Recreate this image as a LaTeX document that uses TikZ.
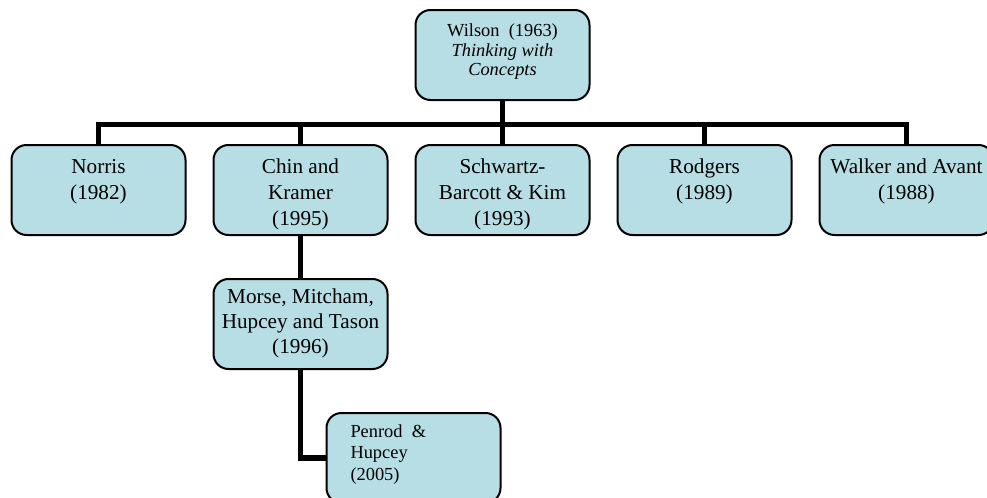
\documentclass[tikz,border=0pt]{standalone}
\usepackage{fontspec}
\setmainfont{Liberation Serif}
\usetikzlibrary{positioning}
\definecolor{boxblue}{RGB}{183,222,228}
\newcommand{\rowfont}{\fontsize{10.6}{13}\selectfont}
\newcommand{\wilsonfont}{\fontsize{9.2}{10}\selectfont}
\newcommand{\morsefont}{\fontsize{10.6}{12.5}\selectfont}
\newcommand{\penrodfont}{\fontsize{9.2}{10.75}\selectfont}
\newcommand{\toplines}[3][\centering]{\parbox[c][45pt][t]{87pt}{#1\vspace*{#2}\strut #3}}
\tikzstyle{concept}=[rectangle,rounded corners=7.5pt,draw=black,line width=1pt,
fill=boxblue,inner sep=0pt,minimum width=87pt,minimum height=45pt]
\tikzstyle{link}=[line width=2.8pt,line join=miter]

\begin{document}
\begin{tikzpicture}[node distance=13pt]
            \useasboundingbox (0,0) rectangle (493.5pt,-249pt);

            % SECOND ROW

            \node[concept,font=\rowfont] (norris) at (49.25pt,-95pt) {\toplines{4.9pt}{Norris\\(1982)}};
            \node[concept,font=\rowfont,right=of norris] (chin) {\toplines{4.9pt}{Chin and\\Kramer\\(1995)}};
            \node[concept,font=\rowfont,right=of chin] (schwartz) {\toplines{4.9pt}{Schwartz-\\Barcott \& Kim\\(1993)}};
            \node[concept,font=\rowfont,right=of schwartz] (rodgers) {\toplines{4.9pt}{Rodgers\\(1989)}};
            \node[concept,font=\rowfont,right=of rodgers] (walker) {\toplines{4.9pt}{Walker and Avant\\(1988)}};

            % TOP

            \node[concept,font=\wilsonfont,above=21.5pt of schwartz] (wilson) {\toplines{6pt}{Wilson\ \ (1963)\\\textit{Thinking with}\\\textit{Concepts}}};

            % BELOW CHIN AND KRAMER

            \node[concept,font=\morsefont,below=21pt of chin] (morse) {\toplines{3.25pt}{Morse, Mitcham,\\Hupcey and Tason\\(1996)}};
            \node[concept,font=\penrodfont,below=21pt of morse,xshift=56.5pt] (penrod) {\toplines[\raggedright\leftskip=12pt]{4.5pt}{Penrod\ \ \&\\Hupcey\\(2005)}};

            % CONNECTIONS

            \coordinate (bar) at (0,-62.25pt);
            \draw[link] (wilson.south) -- (wilson.south |- bar);
            \draw[link] (norris.north) -- (norris.north |- bar) -- (walker.north |- bar) -- (walker.north);
            \draw[link] (chin.north) -- (chin.north |- bar);
            \draw[link] (schwartz.north) -- (schwartz.north |- bar);
            \draw[link] (rodgers.north) -- (rodgers.north |- bar);
            \draw[link] (chin.south) -- (morse.north);
            \draw[link] (morse.south) |- (penrod.west);

\end{tikzpicture}
\end{document}
